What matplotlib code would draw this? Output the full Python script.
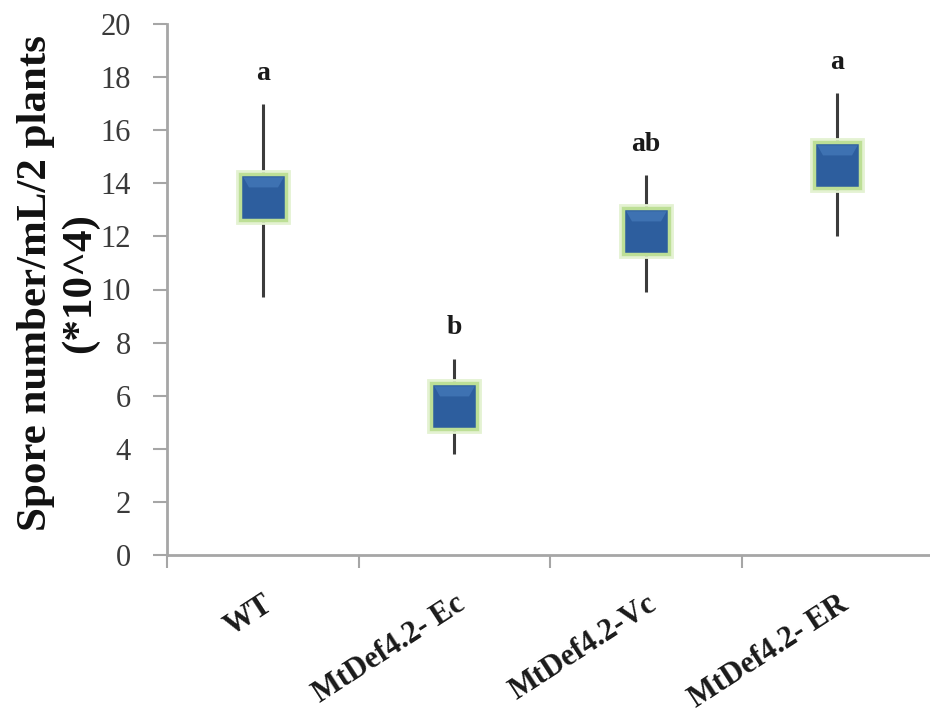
import matplotlib
matplotlib.use('Agg')
import matplotlib.pyplot as plt
import matplotlib.transforms as mtransforms
from matplotlib.path import Path

categories = ['WT', 'MtDef4.2- Ec', 'MtDef4.2-Vc', 'MtDef4.2- ER']
means = [13.5, 5.6, 12.2, 14.7]
lows = [9.7, 3.8, 9.9, 12.0]
highs = [17.0, 7.4, 14.3, 17.4]
letters = ['a', 'b', 'ab', 'a']
yticks = [0, 2, 4, 6, 8, 10, 12, 14, 16, 18, 20]

serif = ['Liberation Serif', 'DejaVu Serif']

fig = plt.figure(figsize=(9.3, 7.17), dpi=100)
ax = fig.add_axes([167 / 930, 162 / 717, 766 / 930, 531 / 717])

xs = list(range(1, len(categories) + 1))

# whiskers
ax.vlines(xs, lows, highs, colors='#3c3c3c', linewidth=2.2, zorder=2)

# square markers (mean) with soft green rim
ax.plot(xs, means, linestyle='none', marker='s', markersize=37,
        markerfacecolor='none', markeredgecolor='#e4f2d2',
        markeredgewidth=2, zorder=2.5)
ax.plot(xs, means, linestyle='none', marker='s', markersize=33,
        markerfacecolor='#2d5e9e', markeredgecolor='#bddf96',
        markeredgewidth=2.5, zorder=3)
# lighter bevel on top of each square
bevel = Path([(-1, 1), (1, 1), (0.72, 0.5), (-0.72, 0.5), (-1, 1)])
ax.plot(xs, means, linestyle='none', marker=bevel, markersize=29,
        markerfacecolor='#4a80c0', markeredgewidth=0, alpha=0.6, zorder=3.5)

for x, h, t in zip(xs, highs, letters):
    ax.annotate(t, (x, h), xytext=(0, 13), textcoords='offset points',
                ha='center', va='bottom', fontsize=20, fontweight='bold',
                family=serif, color='#1a1a1a')

ax.set_xlim(0.5, 4.5)
ax.set_ylim(0, 20)
ax.set_yticks(yticks)
ax.set_yticklabels([str(v) for v in yticks], family=serif, fontsize=22,
                   color='#3a3a3a')

ax.set_xticks([x - 0.5 for x in xs] + [4.5])
ax.set_xticklabels([])
ax.set_xticks(xs, minor=True)
ax.set_xticklabels(categories, minor=True, rotation=33, ha='right',
                   va='top', rotation_mode='anchor', family=serif,
                   fontsize=22, fontweight='bold', color='#1a1a1a')
shift = mtransforms.ScaledTranslation(12 / 100, 0, fig.dpi_scale_trans)
for lab in ax.get_xticklabels(minor=True):
    lab.set_transform(lab.get_transform() + shift)
ax.tick_params(axis='x', which='minor', length=0, pad=25)
ax.tick_params(axis='x', which='major', length=9, width=1.5,
               color='#a6a6a6', direction='out')
ax.tick_params(axis='y', length=10, width=1.5, color='#a6a6a6', pad=16)

for s in ['top', 'right']:
    ax.spines[s].set_visible(False)
for s in ['left', 'bottom']:
    ax.spines[s].set_color('#a6a6a6')
    ax.spines[s].set_linewidth(2)

ax.set_ylabel('Spore number/mL/2 plants\n(*10^4)', family=serif,
              fontsize=31, fontweight='bold', color='#111111',
              linespacing=1.2)
ax.yaxis.set_label_coords(-0.088, 0.512)

fig.savefig('out.png', dpi=100)
